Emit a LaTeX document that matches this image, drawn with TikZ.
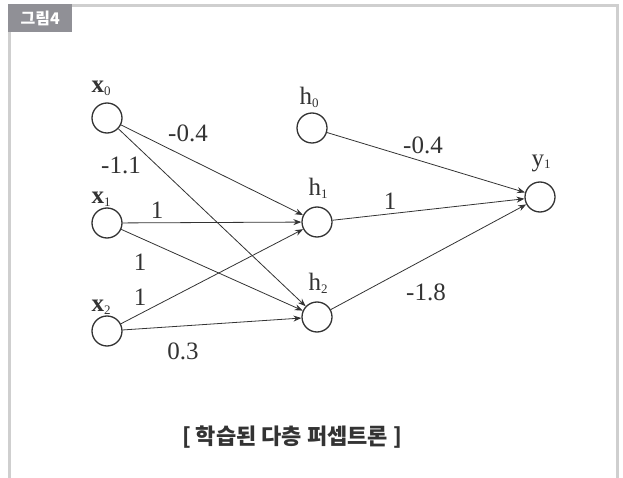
\documentclass[tikz,border=0pt]{standalone}
\usepackage{fontspec}
\setmainfont{Liberation Serif}
\newfontfamily\kr{Noto Sans CJK KR}
\usetikzlibrary{arrows.meta}
\definecolor{ink}{HTML}{333333}
\definecolor{frame}{HTML}{CFCFCF}
\definecolor{tag}{HTML}{909096}
\newcommand{\subs}[1]{\raisebox{-0.25ex}{\fontsize{13}{13}\selectfont #1}}
\begin{document}
\begin{tikzpicture}[x=1pt,y=-1pt,
  neuron/.style={circle,draw=ink,line width=1.3pt,minimum size=30pt,inner sep=0pt},
  lbl/.style={font=\fontsize{25}{25}\selectfont,text=ink,inner sep=0pt},
  wt/.style={font=\fontsize{25}{25}\selectfont,text=ink,inner sep=0pt},
  conn/.style={draw=ink,line width=0.8pt,-{Stealth[length=8pt,width=6pt]}}]
\useasboundingbox (0,0) rectangle (623,478);
% frame
\fill[frame] (8,4) rectangle (619,7);
\fill[frame] (8,4) rectangle (11,478);
\fill[frame] (616,4) rectangle (619,478);
\node[fill=tag,minimum width=64pt,minimum height=28pt,inner sep=0pt,anchor=north west,
  text=white,font=\kr\bfseries\fontsize{16}{16}\selectfont] (tagbox) at (8,4) {그림4};
% neurons
\node[neuron] (x0) at (107,118) {};
\node[neuron] (x1) at (107,223) {};
\node[neuron] (x2) at (107,331) {};
\node[neuron] (h0) at (312,128) {};
\node[neuron] (h1) at (317,222) {};
\node[neuron] (h2) at (317,317) {};
\node[neuron] (y1) at (540,197) {};
% labels
\node[lbl] (lx0) at (101,88) {\textbf{x}\subs{0}};
\node[lbl] (lx1) at (101,199) {\textbf{x}\subs{1}};
\node[lbl] (lx2) at (101,307) {\textbf{x}\subs{2}};
\node[lbl] (lh0) at (309,97) {h\subs{0}};
\node[lbl] (lh1) at (318,188) {h\subs{1}};
\node[lbl] (lh2) at (318,283) {h\subs{2}};
\node[lbl] (ly1) at (541,163) {y\subs{1}};
% connections
\draw[conn] (x0) -- (h1);
\draw[conn] (x0) -- (h2);
\draw[conn] (x1) -- (h1);
\draw[conn] (x1) -- (h2);
\draw[conn] (x2) -- (h1);
\draw[conn] (x2) -- (h2);
\draw[conn] (h0) -- (y1);
\draw[conn] (h1) -- (y1);
\draw[conn] (h2) -- (y1);
% weights
\node[wt] (w1) at (188,133) {-0.4};
\node[wt] (w2) at (121,165) {-1.1};
\node[wt] (w3) at (157,210) {1};
\node[wt] (w4) at (140,262) {1};
\node[wt] (w5) at (140,297) {1};
\node[wt] (w6) at (183,351) {0.3};
\node[wt] (w7) at (423,145) {-0.4};
\node[wt] (w8) at (390,201) {1};
\node[wt] (w9) at (426,292) {-1.8};
% caption
\node[font=\kr\bfseries\fontsize{22}{22}\selectfont,text=ink] (cap) at (292,437) {[ 학습된 다층 퍼셉트론 ]};
\end{tikzpicture}
\end{document}
